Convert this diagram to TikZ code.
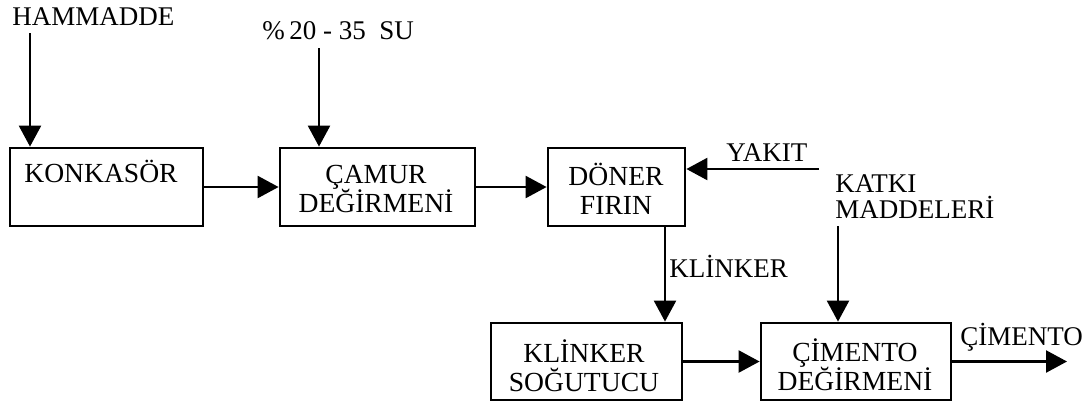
\documentclass[tikz,border=0pt]{standalone}
\usepackage{fontspec}
\setmainfont{Liberation Serif}
\usetikzlibrary{arrows.meta}
\newcommand\boxfnt{\fontsize{13.8pt}{14.5pt}\selectfont\setlength{\lineskiplimit}{-100pt}}
\newcommand\lblfnt{\fontsize{13.5pt}{13pt}\selectfont\setlength{\lineskiplimit}{-100pt}}
\begin{document}
\begin{tikzpicture}[x=0.5pt,y=-0.5pt,
  box/.style={draw, line width=1.4pt, inner sep=0pt},
  txt/.style={inner sep=0pt, align=center, anchor=base, font=\boxfnt},
  lbl/.style={inner sep=0pt, align=left, anchor=base west, font=\lblfnt},
  arr/.style={line width=1.2pt, -{Triangle[length=10.5pt,width=11pt]}}]
\useasboundingbox (0,0) rectangle (1082,404);
% boxes
\node[box, minimum width=96.5pt, minimum height=39pt] (konk) at (106.5,187) {};
\node[box, minimum width=97.5pt, minimum height=39pt] (camur) at (377.5,187) {};
\node[box, minimum width=68.5pt, minimum height=39pt] (doner) at (616.5,187) {};
\node[box, minimum width=95.5pt, minimum height=38.5pt] (ks) at (586.5,361.5) {};
\node[box, minimum width=95pt, minimum height=38.5pt] (cd) at (856,361.5) {};
% box texts (base = last line)
\node[txt] (konkT) at (101,182) {KONKASÖR};
\node[txt] (camurT) at (376,212) {ÇAMUR\\DEĞİRMENİ};
\node[txt] (donerT) at (616,214) {DÖNER\\FIRIN};
\node[txt] (ksT) at (584,391) {KLİNKER\\SOĞUTUCU};
\node[txt] (cdT) at (855,390) {ÇİMENTO\\DEĞİRMENİ};
% outside labels
\node[lbl] (hamT) at (12,25) {HAMMADDE};
\node[lbl] (suT) at (262,39) {\%\,20 - 35\ \ SU};
\node[lbl] (yakT) at (726,161) {YAKIT};
\node[lbl] (klT) at (669,277) {KLİNKER};
\node[lbl] (katT) at (835,218) {KATKI\\MADDELERİ};
\node[lbl] (cimT) at (960,345) {ÇİMENTO};
% free ends
\coordinate (hamS) at (30,33);
\coordinate (suS) at (319,48);
\coordinate (yakS) at (819,169);
\coordinate (klx) at (665,260);
\coordinate (katS) at (838,226);
\coordinate (cimE) at (1067,361.5);
% connectors
\draw[arr] (hamS) -- (hamS |- konk.north);
\draw[arr] (suS) -- (suS |- camur.north);
\draw[arr] (konk) -- (camur);
\draw[arr] (camur) -- (doner);
\draw[arr] (yakS) -- (yakS -| doner.east);
\draw[arr] (doner.south -| klx) -- (klx |- ks.north);
\draw[arr] (katS) -- (katS |- cd.north);
\draw[arr] (ks) -- (cd);
\draw[arr] (cd) -- (cimE);
\end{tikzpicture}
\end{document}
